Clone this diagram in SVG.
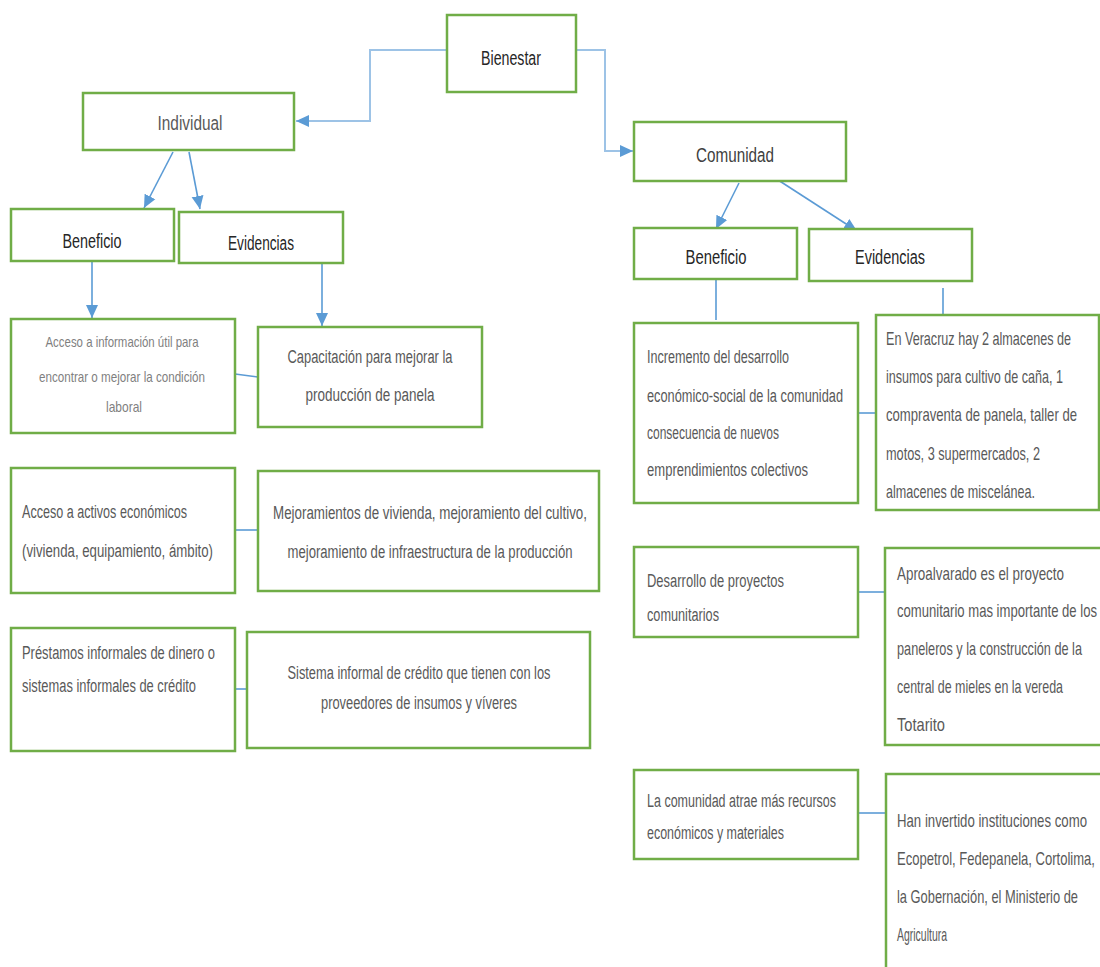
<svg xmlns="http://www.w3.org/2000/svg" width="1100" height="967" viewBox="0 0 1100 967">
<style>
.box{fill:#ffffff;stroke:#70AD47;stroke-width:2.5}
.h{font-family:"Liberation Sans",Arial,sans-serif;font-size:20px;fill:#262626}
.t{font-family:"Liberation Sans",Arial,sans-serif;font-size:18px;fill:#595959}
.tn{font-family:"Liberation Sans",Arial,sans-serif;font-size:12px;fill:#595959}
.s{font-family:"Liberation Sans",Arial,sans-serif;font-size:15px;fill:#7f7f7f}
.c{fill:none;stroke:#5B9BD5;stroke-width:1.6}
.cl{fill:none;stroke:#9DC3E6;stroke-width:2}
</style>
<defs>
<marker id="ah" markerUnits="userSpaceOnUse" markerWidth="14" markerHeight="14" viewBox="0 0 14 14" refX="13" refY="7" orient="auto">
<path d="M0,1 L13,7 L0,13 Z" fill="#5B9BD5"/>
</marker>
</defs>
<rect width="1100" height="967" fill="#ffffff"/>

<g id="connectors">
<path class="cl" d="M447,50 H370 V121 H296" marker-end="url(#ah)"/>
<path class="cl" d="M576,50 H605 V151 H633" marker-end="url(#ah)"/>
<path class="c" d="M173,152 L144,208" marker-end="url(#ah)"/>
<path class="c" d="M189,152 L200,209" marker-end="url(#ah)"/>
<path class="c" d="M739,183 L716,229" marker-end="url(#ah)"/>
<path class="c" d="M775,178 L857,231" marker-end="url(#ah)"/>
<path class="c" d="M92,262 V318" marker-end="url(#ah)"/>
<path class="c" d="M322,264 V326" marker-end="url(#ah)"/>
<path class="c" d="M716,280 V320"/>
<path class="c" d="M943,288 V315"/>
<path class="c" d="M235,374 L258,377"/>
<path class="c" d="M235,530 H258"/>
<path class="c" d="M235,689 H247"/>
<path class="c" d="M858,413 H876"/>
<path class="c" d="M858,592 H885"/>
<path class="c" d="M858,813 H886"/>
</g>

<g id="bienestar">
<rect class="box" x="447" y="15" width="129" height="77"/>
<text class="h" x="511" y="65" text-anchor="middle" textLength="60" lengthAdjust="spacingAndGlyphs">Bienestar</text>
</g>
<g id="individual">
<rect class="box" x="83" y="93" width="211" height="57"/>
<text class="h" x="190" y="130" text-anchor="middle" textLength="65" lengthAdjust="spacingAndGlyphs" style="fill:#595959">Individual</text>
</g>
<g id="comunidad">
<rect class="box" x="634" y="122" width="212" height="59"/>
<text class="h" x="735" y="162" text-anchor="middle" textLength="78" lengthAdjust="spacingAndGlyphs" style="fill:#404040">Comunidad</text>
</g>
<g id="beneficio-ind">
<rect class="box" x="11" y="209" width="163" height="52"/>
<text class="h" x="92" y="248" text-anchor="middle" textLength="59" lengthAdjust="spacingAndGlyphs">Beneficio</text>
</g>
<g id="evidencias-ind">
<rect class="box" x="179" y="212" width="164" height="51"/>
<text class="h" x="261" y="250" text-anchor="middle" textLength="66" lengthAdjust="spacingAndGlyphs">Evidencias</text>
</g>
<g id="beneficio-com">
<rect class="box" x="634" y="228" width="163" height="51"/>
<text class="h" x="716" y="264" text-anchor="middle" textLength="61" lengthAdjust="spacingAndGlyphs">Beneficio</text>
</g>
<g id="evidencias-com">
<rect class="box" x="809" y="229" width="163" height="52"/>
<text class="h" x="890" y="264" text-anchor="middle" textLength="70" lengthAdjust="spacingAndGlyphs">Evidencias</text>
</g>

<g id="acceso-informacion">
<rect class="box" x="11" y="319" width="224" height="114"/>
<text class="s" x="122" y="347" text-anchor="middle" textLength="153" lengthAdjust="spacingAndGlyphs">Acceso a información útil para</text>
<text class="s" x="122" y="382" text-anchor="middle" textLength="166" lengthAdjust="spacingAndGlyphs">encontrar o mejorar la condición</text>
<text class="s" x="124" y="412" text-anchor="middle" textLength="36" lengthAdjust="spacingAndGlyphs">laboral</text>
</g>
<g id="capacitacion">
<rect class="box" x="258" y="327" width="224" height="100"/>
<text class="t" x="370" y="363" text-anchor="middle" textLength="165" lengthAdjust="spacingAndGlyphs">Capacitación para mejorar la</text>
<text class="t" x="370" y="401" text-anchor="middle" textLength="129" lengthAdjust="spacingAndGlyphs">producción de panela</text>
</g>
<g id="acceso-activos">
<rect class="box" x="11" y="468" width="224" height="125"/>
<text class="t" x="22" y="518" textLength="165" lengthAdjust="spacingAndGlyphs">Acceso a activos económicos</text>
<text class="t" x="22" y="557" textLength="191" lengthAdjust="spacingAndGlyphs">(vivienda, equipamiento, ámbito)</text>
</g>
<g id="mejoramientos">
<rect class="box" x="258" y="471" width="341" height="120"/>
<text class="t" x="430" y="519" text-anchor="middle" textLength="314" lengthAdjust="spacingAndGlyphs">Mejoramientos de vivienda, mejoramiento del cultivo,</text>
<text class="t" x="430" y="558" text-anchor="middle" textLength="285" lengthAdjust="spacingAndGlyphs">mejoramiento de infraestructura de la producción</text>
</g>
<g id="prestamos">
<rect class="box" x="11" y="628" width="224" height="123"/>
<text class="t" x="22" y="659" textLength="193" lengthAdjust="spacingAndGlyphs">Préstamos informales de dinero o</text>
<text class="t" x="22" y="692" textLength="174" lengthAdjust="spacingAndGlyphs">sistemas informales de crédito</text>
</g>
<g id="sistema-informal">
<rect class="box" x="247" y="632" width="343" height="116"/>
<text class="t" x="419" y="679" text-anchor="middle" textLength="263" lengthAdjust="spacingAndGlyphs">Sistema informal de crédito que tienen con los</text>
<text class="t" x="419" y="709" text-anchor="middle" textLength="196" lengthAdjust="spacingAndGlyphs">proveedores de insumos y víveres</text>
</g>

<g id="incremento">
<rect class="box" x="634" y="323" width="224" height="180"/>
<text class="t" x="647" y="363" textLength="142" lengthAdjust="spacingAndGlyphs">Incremento del desarrollo</text>
<text class="t" x="647" y="402" textLength="196" lengthAdjust="spacingAndGlyphs">económico-social de la comunidad</text>
<text class="t" x="647" y="439" textLength="132" lengthAdjust="spacingAndGlyphs">consecuencia de nuevos</text>
<text class="t" x="647" y="476" textLength="161" lengthAdjust="spacingAndGlyphs">emprendimientos colectivos</text>
</g>
<g id="veracruz">
<rect class="box" x="876" y="315" width="223" height="195"/>
<g transform="translate(886,0) scale(1,1.5)">
<text class="tn" x="0" y="230" textLength="185" lengthAdjust="spacingAndGlyphs">En Veracruz hay 2 almacenes de</text>
<text class="tn" x="0" y="255.3" textLength="177" lengthAdjust="spacingAndGlyphs">insumos para cultivo de caña, 1</text>
<text class="tn" x="0" y="280.7" textLength="191" lengthAdjust="spacingAndGlyphs">compraventa de panela, taller de</text>
<text class="tn" x="0" y="306.7" textLength="154" lengthAdjust="spacingAndGlyphs">motos, 3 supermercados, 2</text>
<text class="tn" x="0" y="332" textLength="149" lengthAdjust="spacingAndGlyphs">almacenes de miscelánea.</text>
</g>
</g>
<g id="desarrollo">
<rect class="box" x="634" y="547" width="224" height="90"/>
<text class="t" x="647" y="587" textLength="137" lengthAdjust="spacingAndGlyphs">Desarrollo de proyectos</text>
<text class="t" x="647" y="621" textLength="72" lengthAdjust="spacingAndGlyphs">comunitarios</text>
</g>
<g id="aproalvarado">
<rect class="box" x="885" y="548" width="217" height="197"/>
<g transform="translate(897,0) scale(1,1.5)">
<text class="tn" x="0" y="386.7" textLength="167" lengthAdjust="spacingAndGlyphs">Aproalvarado es el proyecto</text>
<text class="tn" x="0" y="411.3" textLength="200" lengthAdjust="spacingAndGlyphs">comunitario mas importante de los</text>
<text class="tn" x="0" y="436.7" textLength="185" lengthAdjust="spacingAndGlyphs">paneleros y la construcción de la</text>
<text class="tn" x="0" y="462" textLength="166" lengthAdjust="spacingAndGlyphs">central de mieles en la vereda</text>
<text class="tn" x="0" y="487.3" textLength="48" lengthAdjust="spacingAndGlyphs">Totarito</text>
</g>
</g>
<g id="comunidad-atrae">
<rect class="box" x="634" y="770" width="224" height="89"/>
<text class="t" x="647" y="807" textLength="189" lengthAdjust="spacingAndGlyphs">La comunidad atrae más recursos</text>
<text class="t" x="647" y="839" textLength="137" lengthAdjust="spacingAndGlyphs">económicos y materiales</text>
</g>
<g id="han-invertido">
<rect class="box" x="886" y="774" width="216" height="200"/>
<g transform="translate(897,0) scale(1,1.5)">
<text class="tn" x="0" y="551.3" textLength="190" lengthAdjust="spacingAndGlyphs">Han invertido instituciones como</text>
<text class="tn" x="0" y="576.7" textLength="198" lengthAdjust="spacingAndGlyphs">Ecopetrol, Fedepanela, Cortolima,</text>
<text class="tn" x="0" y="602" textLength="181" lengthAdjust="spacingAndGlyphs">la Gobernación, el Ministerio de</text>
<text class="tn" x="0" y="627.3" textLength="50" lengthAdjust="spacingAndGlyphs">Agricultura</text>
</g>
</g>
</svg>
